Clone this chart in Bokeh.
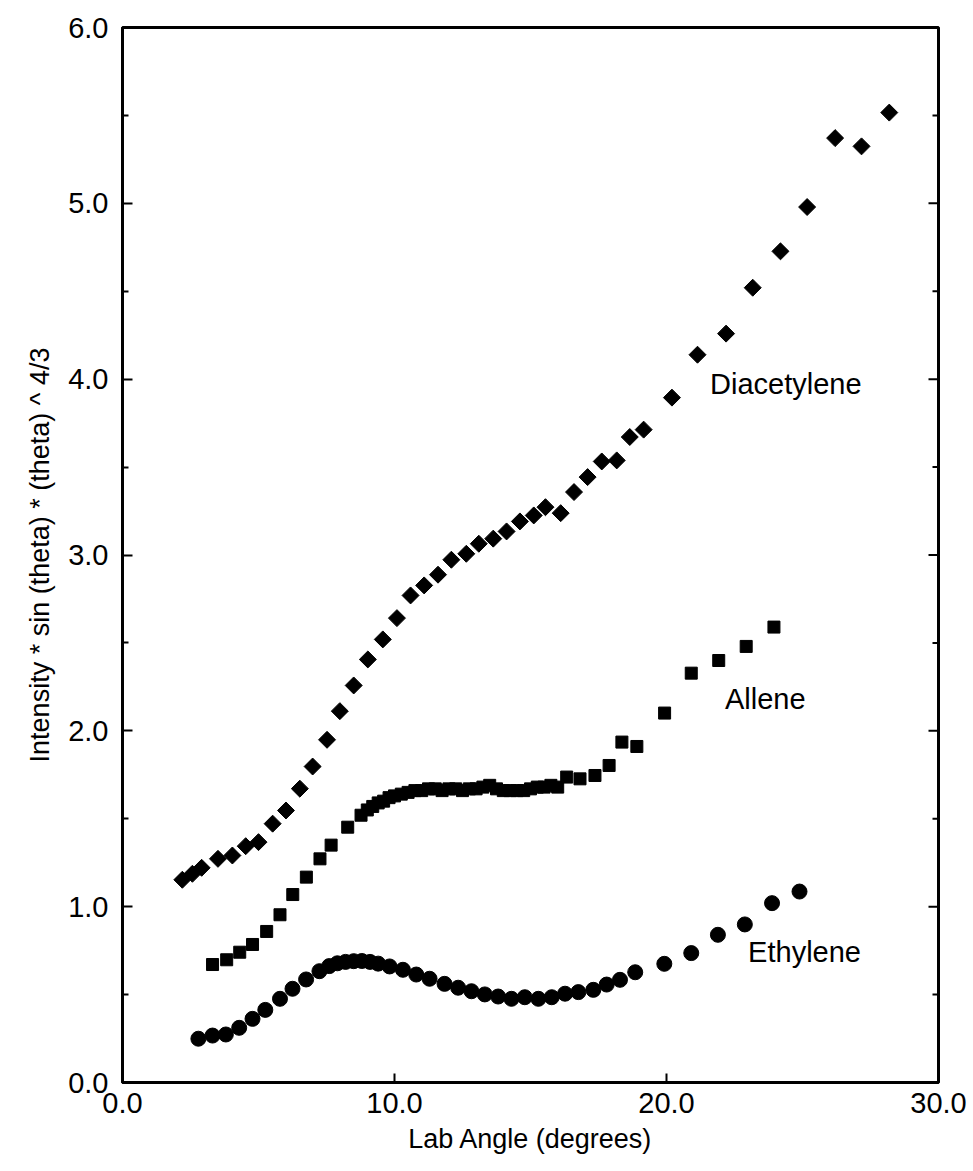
import numpy as np
from bokeh.plotting import figure
from bokeh.models import FixedTicker, Range1d, Label, NumeralTickFormatter
from bokeh.embed import file_html
from bokeh.resources import INLINE

# Diacetylene (diamonds)
dia_x = [2.20, 2.57, 2.91, 3.51, 4.04, 4.53, 5.00, 5.52, 6.01, 6.52, 6.99, 7.52, 7.99,
         8.50, 9.02, 9.57, 10.09, 10.59, 11.09, 11.60, 12.09, 12.64, 13.10, 13.63,
         14.12, 14.61, 15.12, 15.55, 16.11, 16.60, 17.10, 17.62, 18.17, 18.65, 19.16,
         20.20, 21.14, 22.19, 23.17, 24.19, 25.17, 26.20, 27.17, 28.19]
dia_y = [1.153, 1.187, 1.221, 1.272, 1.291, 1.344, 1.367, 1.472, 1.547, 1.671, 1.797,
         1.949, 2.112, 2.258, 2.406, 2.520, 2.641, 2.770, 2.827, 2.888, 2.973, 3.007,
         3.064, 3.093, 3.134, 3.191, 3.225, 3.272, 3.238, 3.358, 3.443, 3.532, 3.538,
         3.671, 3.713, 3.895, 4.139, 4.259, 4.520, 4.727, 4.979, 5.371, 5.324, 5.516]

# Allene (squares)
all_x = [3.31, 3.83, 4.31, 4.78, 5.30, 5.79, 6.26, 6.76, 7.26, 7.67, 8.28,
         8.77, 9.00, 9.20, 9.40, 9.60, 9.80, 10.00, 10.25, 10.50, 10.75, 11.00,
         11.25, 11.50, 11.75, 12.00, 12.25, 12.50, 12.75, 13.00, 13.25, 13.50,
         13.75, 14.00, 14.25, 14.50, 14.75, 15.00, 15.25, 15.50, 15.75, 16.00,
         16.33, 16.82, 17.37, 17.89, 18.36, 18.91, 19.93, 20.91, 21.92, 22.93, 23.95]
all_y = [0.671, 0.698, 0.741, 0.785, 0.859, 0.954, 1.069, 1.168, 1.272, 1.350, 1.452,
         1.52, 1.55, 1.57, 1.59, 1.60, 1.62, 1.63, 1.64, 1.65, 1.66, 1.66,
         1.67, 1.67, 1.66, 1.67, 1.67, 1.66, 1.67, 1.67, 1.68, 1.69,
         1.67, 1.66, 1.66, 1.66, 1.66, 1.67, 1.68, 1.68, 1.69, 1.68,
         1.737, 1.727, 1.746, 1.803, 1.936, 1.911, 2.101, 2.328, 2.400, 2.480, 2.590]

# Ethylene (circles)
eth_x = [2.79, 3.31, 3.80, 4.29, 4.78, 5.25, 5.79, 6.25, 6.75, 7.24, 7.60, 7.90,
         8.20, 8.50, 8.80, 9.10, 9.40, 9.82, 10.31, 10.80, 11.29, 11.84, 12.34,
         12.83, 13.32, 13.81, 14.30, 14.79, 15.29, 15.78, 16.27, 16.76, 17.31,
         17.80, 18.29, 18.85, 19.92, 20.91, 21.89, 22.88, 23.88, 24.89]
eth_y = [0.249, 0.267, 0.273, 0.311, 0.362, 0.413, 0.476, 0.533, 0.586, 0.633, 0.662,
         0.678, 0.686, 0.690, 0.691, 0.686, 0.676, 0.660, 0.641, 0.614, 0.590, 0.561,
         0.539, 0.519, 0.501, 0.489, 0.476, 0.485, 0.476, 0.485, 0.505, 0.514, 0.527,
         0.557, 0.584, 0.627, 0.675, 0.736, 0.840, 0.899, 1.020, 1.086]

x_ticks = [0, 10, 20, 30]
y_ticks = [0, 1, 2, 3, 4, 5, 6]
y_minor = [0.5, 1.5, 2.5, 3.5, 4.5, 5.5]

FONT = "Liberation Sans"

p = figure(width=973, height=1171, x_range=Range1d(0, 30), y_range=Range1d(0, 6),
           output_backend="svg", toolbar_location=None,
           min_border_left=122, min_border_right=35, min_border_top=27,
           min_border_bottom=89)
p.grid.visible = False
p.outline_line_color = "black"
p.outline_line_width = 3
p.background_fill_color = "white"
p.border_fill_color = "white"

xa = p.xaxis[0]
xa.ticker = FixedTicker(ticks=x_ticks, minor_ticks=[])
xa.formatter = NumeralTickFormatter(format="0.0")
xa.axis_label = "Lab Angle (degrees)"
xa.major_tick_in = 9
xa.major_tick_out = 0
xa.minor_tick_in = 0
xa.minor_tick_out = 0
xa.axis_line_width = 3
xa.major_tick_line_width = 2
xa.major_label_standoff = 10
xa.axis_label_standoff = 8

ya = p.yaxis[0]
ya.ticker = FixedTicker(ticks=y_ticks, minor_ticks=y_minor)
ya.formatter = NumeralTickFormatter(format="0.0")
ya.axis_label = "Intensity * sin (theta) * (theta) ^ 4/3"
ya.major_tick_in = 10
ya.major_tick_out = 0
ya.minor_tick_in = 6
ya.minor_tick_out = 0
ya.axis_line_width = 3
ya.major_tick_line_width = 2
ya.minor_tick_line_width = 2
ya.major_label_standoff = 14
ya.axis_label_standoff = 10

for ax in (xa, ya):
    ax.major_label_text_font = FONT
    ax.major_label_text_font_size = "29px"
    ax.major_label_text_color = "black"
    ax.axis_label_text_font = FONT
    ax.axis_label_text_font_size = "27px"
    ax.axis_label_text_font_style = "normal"
    ax.axis_label_text_color = "black"

# tick marks along the right edge of the frame, pointing inward
p.scatter(x=[30] * len(y_ticks), y=y_ticks, marker="dash", size=20,
          line_color="black", line_width=2)
p.scatter(x=[30] * len(y_minor), y=y_minor, marker="dash", size=12,
          line_color="black", line_width=2)

p.scatter(eth_x, eth_y, marker="circle", size=15, fill_color="black", line_color="black")
p.scatter(all_x, all_y, marker="square", size=12, fill_color="black", line_color="black")
p.scatter(dia_x, dia_y, marker="square", angle=np.pi / 4, size=12,
          fill_color="black", line_color="black")

for txt, lx, ly in [("Diacetylene", 21.6, 3.97), ("Allene", 22.15, 2.18), ("Ethylene", 23.0, 0.74)]:
    p.add_layout(Label(x=lx, y=ly, text=txt, text_font=FONT, text_font_size="29px",
                       text_baseline="middle", text_align="left", text_color="black"))

open("out.html", "w").write(file_html(p, INLINE))
